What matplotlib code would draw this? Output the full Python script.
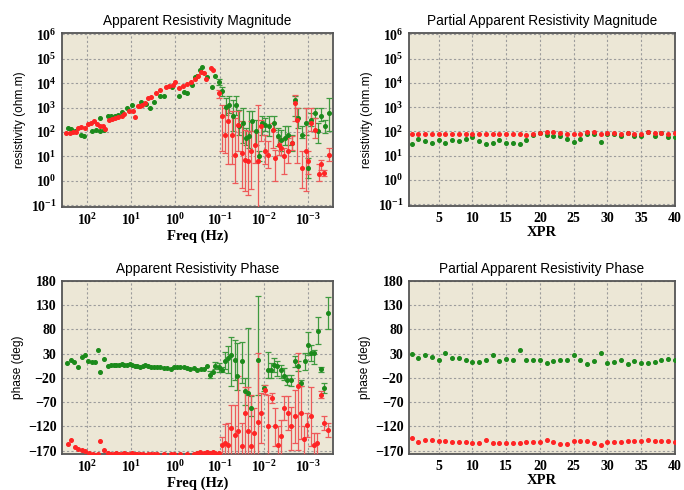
import numpy as np
import matplotlib
matplotlib.use("Agg")
import matplotlib.pyplot as plt
from matplotlib.ticker import FixedLocator, FixedFormatter, NullLocator

plt.rcParams['mathtext.fontset'] = 'custom'
plt.rcParams['mathtext.rm'] = 'Liberation Serif:bold'
plt.rcParams['mathtext.it'] = 'Liberation Serif:bold'
plt.rcParams['mathtext.bf'] = 'Liberation Serif:bold'
plt.rcParams['mathtext.default'] = 'rm'

# ---------------- DATA (log10 of frequency in Hz, log10 of resistivity) ----------------
# Apparent resistivity magnitude, red, high-frequency part (no error bars)
RED_MAG_LOGF = [2.47, 2.40, 2.32, 2.25, 2.21, 2.13, 2.06, 1.98, 1.91, 1.84, 1.78, 1.72, 1.65, 1.60,
                1.51, 1.44, 1.36, 1.29, 1.21, 1.16, 1.05, 0.97, 0.92, 0.85, 0.80, 0.75, 0.68, 0.62,
                0.55, 0.43, 0.34, 0.22, 0.15, 0.05, 0.00, -0.07, -0.17, -0.26, -0.35, -0.45, -0.50,
                -0.58, -0.65, -0.70, -0.80, -0.85]
RED_MAG_LOGR = [1.96, 1.97, 1.98, 2.00, 2.16, 2.19, 2.15, 2.32, 2.36, 2.43, 2.34, 2.26, 2.23, 2.14,
                2.50, 2.53, 2.57, 2.60, 2.64, 2.73, 2.86, 2.84, 2.60, 3.07, 3.05, 3.11, 3.20, 3.41,
                3.45, 3.58, 3.72, 3.85, 3.88, 3.92, 4.05, 3.78, 3.89, 3.95, 4.03, 4.15, 4.30,
                4.45, 4.40, 4.15, 4.60, 4.55]
# red, low-frequency part with error bars: (log f, log rho, log lower, log upper)
RED_MAG_ERR_LOGF = [-0.98, -1.05, -1.13, -1.20, -1.28, -1.35, -1.42, -1.50, -1.57, -1.65, -1.72, -1.80,
                    -1.87, -1.94, -2.02, -2.09, -2.20, -2.26, -2.34, -2.39, -2.46, -2.56, -2.64, -2.71,
                    -2.76, -2.87, -2.95, -3.01, -3.07, -3.17, -3.25, -3.30, -3.37, -3.47]
RED_MAG_ERR_LOGR = [3.59, 2.64, 1.89, 2.44, 1.89, 1.07, 2.30, 1.14, 0.87, 0.80, 1.21, 1.48,
                    0.80, 2.23, 1.21, 1.07, 2.10, 0.94, 1.48, 1.35, 1.01, 1.21, 1.55, 3.18,
                    2.50, 0.53, 1.21, 0.80, 2.37, 2.10, 0.26, 0.67, 0.33, 1.07]
RED_MAG_ERR_LO = [3.40, 1.21, 1.14, 0.67, 0.67, -0.08, 1.21, -0.29, -0.42, -0.56, -0.35, 0.73,
                  -1.20, 1.62, 0.67, 0.53, 1.35, -0.01, 1.07, 1.07, 0.26, 0.73, 1.28, 2.44,
                  0.73, -0.29, -0.42, 0.26, 2.03, 1.76, -0.01, 0.46, 0.19, 0.80]
RED_MAG_ERR_HI = [3.72, 3.12, 2.98, 3.12, 2.84, 2.57, 2.84, 2.44, 2.10, 2.03, 2.44, 2.03,
                  3.12, 2.50, 1.89, 1.62, 2.37, 1.28, 1.76, 1.62, 1.35, 1.76, 1.82, 3.52,
                  2.98, 1.21, 2.98, 1.21, 2.98, 2.57, 0.67, 0.87, 0.46, 1.35]

GRN_MAG_LOGF = [2.43, 2.36, 2.28, 2.15, 2.07, 1.90, 1.80, 1.72, 1.70, 1.61, 1.52, 1.45, 1.37, 1.30,
                1.20, 1.09, 0.99, 0.79, 0.67, 0.58, 0.49, 0.34, 0.25, 0.07, -0.07, -0.19, -0.26,
                -0.38, -0.45, -0.49, -0.55, -0.61, -0.72, -0.83, -0.90]
GRN_MAG_LOGR = [2.16, 2.14, 2.05, 1.89, 1.82, 2.05, 2.09, 2.05, 2.59, 2.09, 2.66, 2.66, 2.64, 2.70,
                2.81, 2.97, 3.11, 3.24, 3.14, 2.97, 3.24, 3.47, 3.47, 3.82, 3.49, 3.62, 3.59,
                3.93, 4.23, 4.27, 4.53, 4.64, 4.23, 3.86, 4.27]
GRN_MAG_ERR_LOGF = [-0.98, -1.05, -1.15, -1.22, -1.30, -1.37, -1.45, -1.52, -1.59, -1.67, -1.74, -1.82,
                    -1.89, -1.97, -2.04, -2.13, -2.24, -2.32, -2.39, -2.49, -2.56, -2.64, -2.71, -2.78,
                    -2.87, -2.95, -3.01, -3.08, -3.16, -3.23, -3.30, -3.38, -3.47]
GRN_MAG_ERR_LOGR = [4.04, 3.69, 3.01, 3.12, 2.64, 3.12, 2.23, 2.37, 1.76, 1.82, 2.44, 2.03,
                    1.01, 2.37, 2.30, 2.23, 2.37, 1.82, 1.69, 1.76, 1.89, 1.55, 3.32, 2.57,
                    1.89, 2.37, 0.53, 2.50, 2.78, 2.03, 2.64, 2.23, 2.78]
GRN_MAG_ERR_LO = [3.93, 3.46, 2.71, 2.78, 2.03, 2.71, 1.89, 1.55, 1.48, 1.35, 2.03, 1.48,
                  0.80, 1.89, 2.03, 1.82, 2.10, 1.42, 1.21, 1.48, 1.48, 1.21, 2.64, 2.16,
                  1.76, 1.89, 0.12, 2.23, 2.57, 1.55, 2.44, 1.96, 2.03]
GRN_MAG_ERR_HI = [4.15, 3.86, 3.39, 3.46, 3.32, 3.46, 2.91, 2.98, 2.16, 2.84, 2.84, 2.50,
                  1.21, 2.64, 2.57, 2.64, 2.64, 2.16, 2.10, 2.23, 2.23, 1.89, 3.46, 2.98,
                  2.23, 2.98, 0.94, 2.78, 2.98, 2.37, 2.98, 2.50, 3.39]

# Apparent resistivity phase (deg)
GRN_PH_LOGF = [2.45, 2.37, 2.30, 2.21, 2.12, 2.04, 1.97, 1.90, 1.82, 1.76, 1.70, 1.61, 1.52, 1.46,
               1.40, 1.34, 1.28, 1.22, 1.16, 1.10, 1.04, 0.98, 0.92, 0.86, 0.80, 0.74, 0.68, 0.62,
               0.56, 0.49, 0.41, 0.34, 0.26, 0.19, 0.11, 0.04, -0.04, -0.11, -0.19, -0.26, -0.34,
               -0.41, -0.49, -0.57, -0.64, -0.72, -0.85]
GRN_PH = [11, 16, 12, 2, 24, 28, 14, 12, 13, 37, -8, 20, 5, 6,
          6, 7, 7, 8, 7, 6, 8, 6, 5, 4, 3, 5, 6, 4,
          3, 3, 2, 3, 0, 0, -2, 2, 2, 3, 2, 0, -1,
          0, -3, -2, -2, 5, -7]
GRN_PH_ERR_LOGF = [-0.79, -0.90, -0.98, -1.05, -1.13, -1.20, -1.27, -1.35, -1.40, -1.50, -1.57, -1.64,
                   -1.72, -1.87, -2.01, -2.09, -2.16, -2.24, -2.31, -2.39, -2.46, -2.53, -2.61, -2.70,
                   -2.77, -2.84, -2.93, -3.00, -3.07, -3.15, -3.22, -3.29, -3.36, -3.46]
GRN_PH_ERR = [-13, 5, 2, -3, 15, 21, 28, 17, -17, 14, -48, -51,
              -82, 17, -41, -3, -3, 7, 4, -3, -17, -24, -24, 14,
              4, -31, 14, 48, 31, 31, 76, -2, -41, 113]
GRN_PH_ERR_LO = [-20, -1, -7, -8, -1, -10, -37, -24, -44, -31, -75, -55,
                 -99, -55, -48, -20, -20, -7, -17, -20, -24, -34, -37, 2,
                 -6, -37, -3, 28, 14, 9, 49, -7, -51, 80]
GRN_PH_ERR_HI = [-6, 12, 10, 2, 34, 45, 64, 58, 53, 55, -20, 82,
                 -58, 150, -34, 34, 10, 21, 14, 7, 0, -13, -13, 26,
                 14, -24, 31, 75, 48, 38, 106, 3, -31, 147]

RED_PH_LOGF = [2.43, 2.36, 2.28, 2.21, 2.12, 2.04, 1.95, 1.87, 1.76, 1.70, 1.61, 1.52, 1.46, 1.40,
               1.34, 1.28, 1.22, 1.16, 1.10, 1.04, 0.98, 0.92, 0.86, 0.80, 0.74, 0.62, 0.56, 0.49,
               0.41, 0.26, 0.11, 0.04, -0.11, -0.26, -0.41, -0.49, -0.56, -0.64, -0.72, -0.79,
               -0.85, -0.90, -0.98]
RED_PH = [-156, -149, -163, -166, -168, -170, -175, -177, -177, -151, -168, -175, -176, -176,
          -175, -176, -176, -175, -176, -177, -175, -176, -177, -177, -177, -176, -177, -177,
          -177, -177, -176, -177, -177, -177, -176, -174, -173, -174, -173, -175,
          -173, -174, -174]
RED_PH_ERR_LOGF = [-1.05, -1.13, -1.20, -1.27, -1.35, -1.42, -1.50, -1.57, -1.64, -1.72, -1.79, -1.87,
                   -1.94, -2.03, -2.10, -2.18, -2.25, -2.33, -2.40, -2.47, -2.55, -2.62, -2.70, -2.77,
                   -2.84, -2.92, -2.99, -3.07, -3.14, -3.21, -3.29, -3.37, -3.46]
RED_PH_ERR = [-158, -154, -158, -123, -137, -130, -161, -92, -130, -161, -134, -110,
              -92, -44, -120, -62, -120, -158, -140, -82, -92, -120, -99, -37,
              -92, -147, -117, -99, -158, -154, -55, -113, -127]
RED_PH_ERR_LO = [-180, -180, -180, -180, -180, -180, -180, -180, -180, -180, -180, -180,
                 -154, -54, -180, -72, -161, -180, -180, -106, -127, -168, -154, -168,
                 -147, -180, -141, -161, -180, -180, -62, -127, -141]
RED_PH_ERR_HI = [-141, -116, -113, -75, -75, -17, -113, -38, -38, -55, -82, 31,
                 -51, -34, -55, -51, -82, -120, -106, -58, -58, -79, -44, 31,
                 -37, -120, -92, -38, -134, -134, -48, -99, -113]

# Partial apparent resistivity (XPR 1..40)
XPR = list(range(1, 41))
RED_PMAG = [80, 80, 78, 76, 76, 78, 78, 78, 80, 78, 78, 78, 78, 78, 78, 78, 78, 73, 80, 86,
            94, 91, 86, 80, 76, 80, 91, 97, 78, 88, 83, 80, 86, 80, 78, 97, 86, 88, 78, 86]
GRN_PMAG = [29, 49, 39, 32, 46, 34, 43, 39, 49, 59, 39, 29, 32, 43, 32, 34, 29, 43, 73, 86,
            69, 67, 63, 50, 37, 50, 78, 80, 36, 80, 78, 67, 86, 67, 63, 94, 63, 86, 59, 59]
GRN_PPH = [30, 22, 28, 24, 18, 31, 22, 22, 16, 13, 13, 18, 27, 15, 20, 17, 37, 16, 16, 17,
           11, 15, 17, 16, 27, 16, 9, 15, 31, 11, 13, 18, 9, 15, 11, 11, 13, 18, 20, 16]
RED_PPH = [-145, -152, -149, -148, -151, -151, -152, -152, -153, -154, -154, -149, -154, -154,
           -154, -154, -155, -152, -152, -153, -149, -153, -156, -156, -151, -151, -151, -155,
           -158, -152, -152, -153, -151, -150, -151, -149, -150, -150, -151, -152]

FREQ_TICKS = [1e2, 1e1, 1e0, 1e-1, 1e-2, 1e-3]
FREQ_LABELS = [r'$10^{2}$', r'$10^{1}$', r'$10^{0}$', r'$10^{-1}$', r'$10^{-2}$', r'$10^{-3}$']
MAG_TICKS = [1e-1, 1e0, 1e1, 1e2, 1e3, 1e4, 1e5, 1e6]
MAG_LABELS = [r'$10^{-1}$', r'$10^{0}$', r'$10^{1}$', r'$10^{2}$', r'$10^{3}$', r'$10^{4}$',
              r'$10^{5}$', r'$10^{6}$']
PH_TICKS = [180, 130, 80, 30, -20, -70, -120, -170]
XPR_TICKS = [5, 10, 15, 20, 25, 30, 35, 40]

# ---------------- STYLE ----------------
RED = '#ff2424'
RED_ERR = '#ee5a5a'
GRN = '#1b8a1b'
GRN_ERR = '#3f9a3f'
FACE = '#ece7d6'
SERIF = 'Liberation Serif'
SANS = 'Liberation Sans'
MS = 2.6

fig = plt.figure(figsize=(6.84, 4.90), dpi=100)
W, H = 684, 490


def add_ax(l, t, r, b):
    return fig.add_axes([l / W, 1 - b / H, (r - l) / W, (b - t) / H])


ax_m = add_ax(62, 33, 333, 207)
ax_pm = add_ax(409, 33, 675, 206)
ax_p = add_ax(62, 281, 333, 454)
ax_pp = add_ax(409, 281, 675, 454)


def style(ax, title, xlabel, ylabel):
    ax.set_facecolor(FACE)
    for s in ax.spines.values():
        s.set_color('#555555')
        s.set_linewidth(1.3)
    ax.grid(True, which='major', linestyle=(0, (2, 2)), color='#9c9c9c', linewidth=0.8)
    ax.set_axisbelow(True)
    ax.tick_params(length=0, pad=4)
    ax.set_title(title, fontsize=9.8, family=SANS, pad=6)
    ax.set_xlabel(xlabel, fontsize=10.5, family=SERIF, fontweight='bold', labelpad=1)
    ax.set_ylabel(ylabel, fontsize=8.6, family=SANS, labelpad=3)
    for lab in ax.get_xticklabels() + ax.get_yticklabels():
        lab.set_fontsize(10)
        lab.set_family(SERIF)
        lab.set_fontweight('bold')


def plot_err(ax, x, y, lo, hi, color, ecolor):
    y = np.asarray(y, float)
    yerr = [y - np.asarray(lo, float), np.asarray(hi, float) - y]
    ax.errorbar(x, y, yerr=yerr, fmt='o', color=color, ms=MS, mec=color,
                ecolor=ecolor, elinewidth=0.9, capsize=2.2, capthick=0.9, zorder=3)


def plot_freq_axis(ax):
    ax.set_xscale('log')
    ax.set_xlim(10 ** 2.57, 10 ** -3.57)
    ax.xaxis.set_major_locator(FixedLocator(FREQ_TICKS))
    ax.xaxis.set_major_formatter(FixedFormatter(FREQ_LABELS))
    ax.xaxis.set_minor_locator(NullLocator())


def pw(a):
    return 10 ** np.asarray(a, float)


# --- Apparent Resistivity Magnitude
ax = ax_m
ax.set_yscale('log')
plot_freq_axis(ax)
plot_err(ax, pw(GRN_MAG_ERR_LOGF), pw(GRN_MAG_ERR_LOGR), pw(GRN_MAG_ERR_LO), pw(GRN_MAG_ERR_HI), GRN, GRN_ERR)
plot_err(ax, pw(RED_MAG_ERR_LOGF), pw(RED_MAG_ERR_LOGR), pw(RED_MAG_ERR_LO), pw(RED_MAG_ERR_HI), RED, RED_ERR)
ax.plot(pw(GRN_MAG_LOGF), pw(GRN_MAG_LOGR), 'o', color=GRN, ms=MS, zorder=3)
ax.plot(pw(RED_MAG_LOGF), pw(RED_MAG_LOGR), 'o', color=RED, ms=MS, zorder=3)
ax.set_ylim(10 ** -1.07, 10 ** 6.05)
ax.yaxis.set_major_locator(FixedLocator(MAG_TICKS))
ax.yaxis.set_major_formatter(FixedFormatter(MAG_LABELS))
ax.yaxis.set_minor_locator(NullLocator())
style(ax, 'Apparent Resistivity Magnitude', 'Freq (Hz)', 'resistivity (ohm.m)')

# --- Partial Apparent Resistivity Magnitude
ax = ax_pm
ax.set_yscale('log')
ax.plot(XPR, GRN_PMAG, 'o', color=GRN, ms=MS, zorder=3)
ax.plot(XPR, RED_PMAG, 'o', color=RED, ms=MS, zorder=3)
ax.set_xlim(0.6, 40)
ax.set_xticks(XPR_TICKS)
ax.set_ylim(10 ** -1.07, 10 ** 6.05)
ax.yaxis.set_major_locator(FixedLocator(MAG_TICKS))
ax.yaxis.set_major_formatter(FixedFormatter(MAG_LABELS))
ax.yaxis.set_minor_locator(NullLocator())
style(ax, 'Partial Apparent Resistivity Magnitude', 'XPR', 'resistivity (ohm.m)')

# --- Apparent Resistivity Phase
ax = ax_p
plot_freq_axis(ax)
plot_err(ax, pw(GRN_PH_ERR_LOGF), GRN_PH_ERR, GRN_PH_ERR_LO, GRN_PH_ERR_HI, GRN, GRN_ERR)
plot_err(ax, pw(RED_PH_ERR_LOGF), RED_PH_ERR, RED_PH_ERR_LO, RED_PH_ERR_HI, RED, RED_ERR)
ax.plot(pw(GRN_PH_LOGF), GRN_PH, 'o', color=GRN, ms=MS, zorder=3)
ax.plot(pw(RED_PH_LOGF), RED_PH, 'o', color=RED, ms=MS, zorder=3)
ax.set_ylim(-177, 180)
ax.set_yticks(PH_TICKS)
style(ax, 'Apparent Resistivity Phase', 'Freq (Hz)', 'phase (deg)')

# --- Partial Apparent Resistivity Phase
ax = ax_pp
ax.plot(XPR, GRN_PPH, 'o', color=GRN, ms=MS, zorder=3)
ax.plot(XPR, RED_PPH, 'o', color=RED, ms=MS, zorder=3)
ax.set_xlim(0.6, 40)
ax.set_xticks(XPR_TICKS)
ax.set_ylim(-177, 180)
ax.set_yticks(PH_TICKS)
style(ax, 'Partial Apparent Resistivity Phase', 'XPR', 'phase (deg)')

fig.savefig('out.png', dpi=100)
